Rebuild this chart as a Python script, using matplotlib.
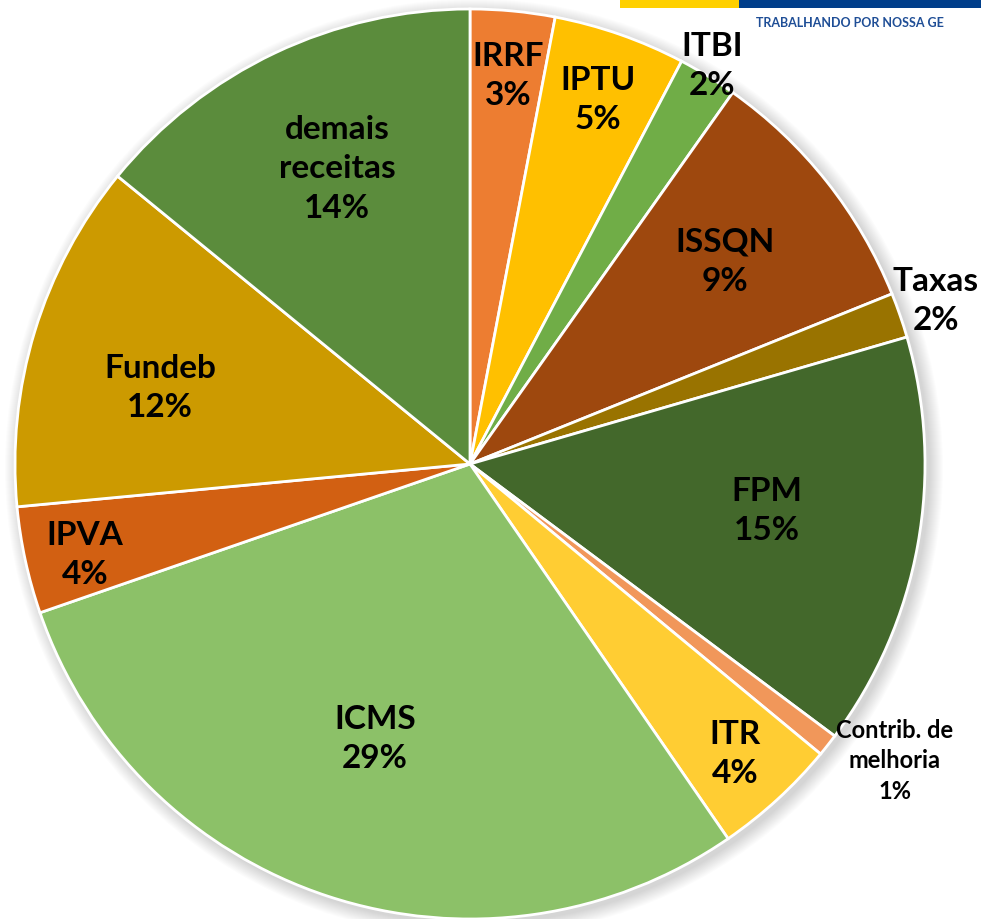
import matplotlib.pyplot as plt
from matplotlib.patches import Circle, Rectangle

# shares of municipal revenue (percent), clockwise from 12 o'clock
categories = ["IRRF", "IPTU", "ITBI", "ISSQN", "Taxas", "FPM", "Contrib. de\nmelhoria",
              "ITR", "ICMS", "IPVA", "Fundeb", "demais\nreceitas"]
shares = [3.0, 4.7, 2.1, 9.1, 1.6, 14.7, 0.8, 4.4, 29.3, 3.8, 12.4, 14.1]
colors = ["#ED7D31", "#FFC000", "#70AD47", "#9E480E", "#997300", "#43682B", "#F1975A",
          "#FFCD33", "#8CC168", "#D26012", "#CC9A00", "#5B8C3C"]

# label anchor points in pixels (x, y from top)
label_pos = [(508, 76), (598, 100), (712, 66), (725, 262), (936, 301), (767, 511),
             (895, 761), (735, 754), (375, 739), (85, 555), (160, 388), (337, 169)]

W, H = 981, 919
cx, cy, r = 470, 464, 455

fig = plt.figure(figsize=(W / 100, H / 100), dpi=100)
ax = fig.add_axes([0, 0, 1, 1])

# soft shadow behind the pie
for k in range(14, 0, -1):
    ax.add_patch(Circle((cx + 4, H - cy - 4), r + k, color="black", alpha=0.012, lw=0, zorder=0))

ax.pie(shares, colors=colors, startangle=90, counterclock=False,
       center=(cx, H - cy), radius=r,
       wedgeprops=dict(edgecolor="white", linewidth=2))

for name, val, (x, y) in zip(categories, shares, label_pos):
    small = "Contrib" in name
    ax.text(x, H - y, f"{name}\n{round(val)}%", ha="center", va="center",
            fontsize=17 if small else 24, fontweight="bold", family="Lato",
            linespacing=1.4 if small else 1.42, color="black", zorder=5)

# cropped header banner at the top right
ax.add_patch(Rectangle((620, H - 8), 119, 8, color="#FFD000", lw=0, zorder=6))
ax.add_patch(Rectangle((739, H - 8), W - 739, 8, color="#003E8A", lw=0, zorder=6))
ax.text(756, H - 23, "TRABALHANDO POR NOSSA GE", fontsize=9, fontweight="bold",
        color="#1F4E96", family="Lato", va="center", ha="left", zorder=6)

ax.set_xlim(0, W)
ax.set_ylim(0, H)
ax.set_aspect("equal")
ax.axis("off")
fig.savefig("out.png", dpi=100)
